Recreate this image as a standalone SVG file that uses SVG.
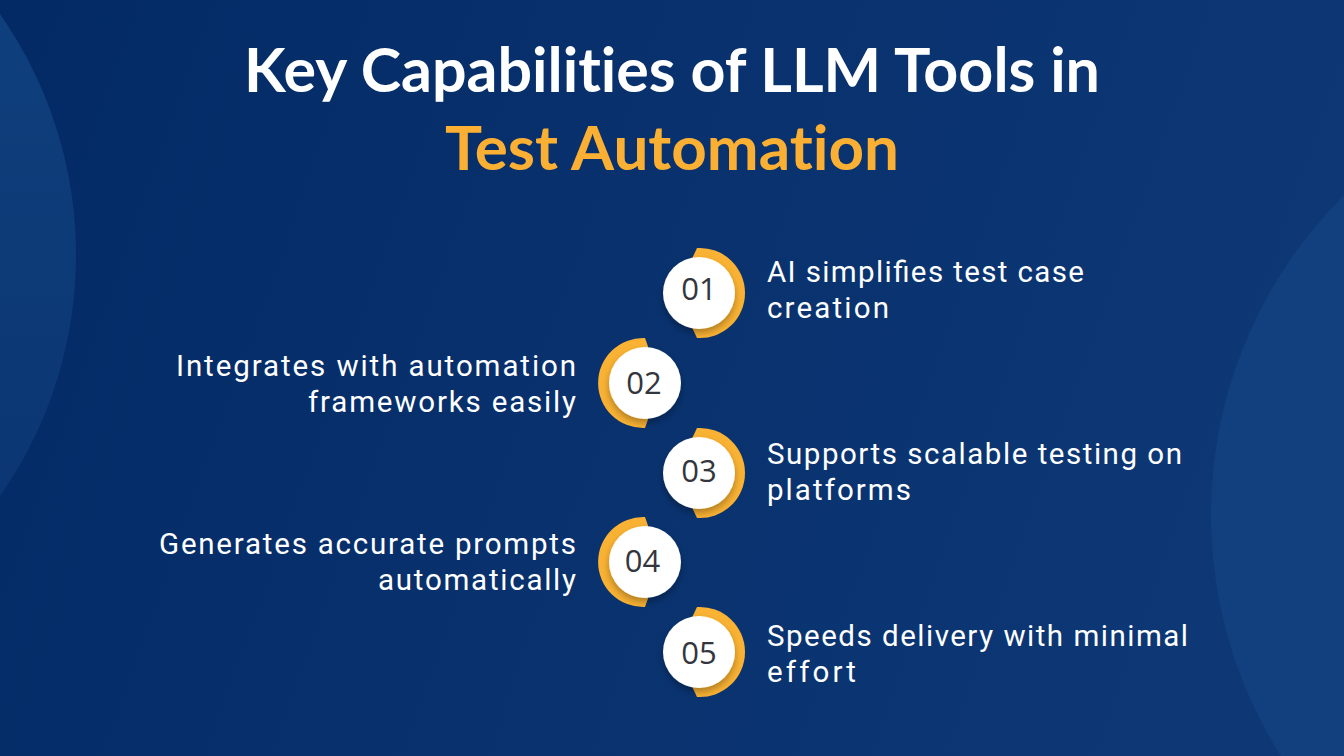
<svg xmlns="http://www.w3.org/2000/svg" width="1344" height="756" viewBox="0 0 1344 756">
<defs>
<linearGradient id="bg" x1="0" y1="0" x2="1" y2="0.2"><stop offset="0" stop-color="#032a65"/><stop offset="1" stop-color="#0d3875"/></linearGradient>
<linearGradient id="cl" x1="0" y1="0" x2="0" y2="1"><stop offset="0" stop-color="#104280"/><stop offset="1" stop-color="#0a3370"/></linearGradient>
<filter id="sh" x="-30%" y="-30%" width="170%" height="170%"><feDropShadow dx="0" dy="4" stdDeviation="3.5" flood-color="#000" flood-opacity="0.3"/></filter>
<path id="r" d="M-3 -44.9 A45 45 0 1 1 -3 44.9 L-11 28 L-11 -28Z" fill="#f9b233"/>
<path id="l" d="M2 -44.96 A45 45 0 1 0 2 44.96 L8 28 L8 -28Z" fill="#f9b233"/>
</defs>
<style>
.c{fill:#fff;filter:url(#sh)}
.n{font:400 31px "Open Sans","Noto Sans",sans-serif;fill:#33363d;text-anchor:middle}
.t{font:400 29.5px Roboto,"Noto Sans",sans-serif;fill:#fff}
.h{font:700 61px Lato,"Open Sans",sans-serif;text-anchor:middle;font-variant-ligatures:none}
</style>
<rect width="1344" height="756" fill="url(#bg)"/>
<circle cx="-344" cy="255" r="420" fill="url(#cl)"/>
<circle cx="1662" cy="515" r="451" fill="#12407f"/>
<text class="h" x="672" y="92" fill="#fff" textLength="856" lengthAdjust="spacingAndGlyphs">Key Capabilities of LLM Tools in</text>
<text class="h" x="672" y="170" fill="#fbb034" textLength="454" lengthAdjust="spacingAndGlyphs">Test Automation</text>
<g id="node-01"><use href="#r" x="700" y="293"/><circle class="c" cx="699" cy="293" r="36"/><text class="n" x="699" y="300">01</text><text class="t" x="767" y="282" textLength="317">AI simplifies test case</text><text class="t" x="767" y="318" textLength="122">creation</text></g>
<g id="node-02"><use href="#l" x="643" y="383"/><circle class="c" cx="645" cy="383" r="36"/><text class="n" x="644" y="394">02</text><text class="t" x="176" y="376" textLength="400">Integrates with automation</text><text class="t" x="308" y="412" textLength="268">frameworks easily</text></g>
<g id="node-03"><use href="#r" x="700" y="473"/><circle class="c" cx="699" cy="473" r="36"/><text class="n" x="699" y="482">03</text><text class="t" x="767" y="464" textLength="415">Supports scalable testing on</text><text class="t" x="767" y="500" textLength="144">platforms</text></g>
<g id="node-04"><use href="#l" x="643" y="562"/><circle class="c" cx="645" cy="562" r="36"/><text class="n" x="642.500" y="572">04</text><text class="t" x="159" y="554" textLength="417">Generates accurate prompts</text><text class="t" x="378" y="590" textLength="198">automatically</text></g>
<g id="node-05"><use href="#r" x="700" y="652"/><circle class="c" cx="699" cy="652" r="36"/><text class="n" x="699" y="664">05</text><text class="t" x="767" y="646" textLength="421">Speeds delivery with minimal</text><text class="t" x="767" y="682" textLength="89">effort</text></g>
</svg>
